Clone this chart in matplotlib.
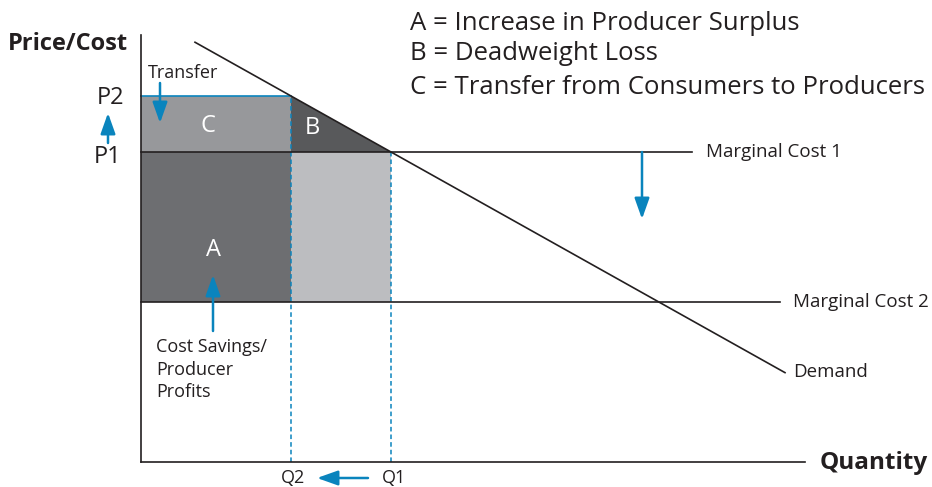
import matplotlib.pyplot as plt
from matplotlib.patches import Polygon, Rectangle

# market values (quantity, price)
q2, q1 = 15.0, 25.0
p2, p1 = 36.6, 31.0
mc2 = 16.0
demand_q = [5.4, 64.4]
demand_intercept, demand_slope = 45.0, 0.56
mc1_end, mc2_end = 55.1, 63.9
x_axis_end, y_axis_top = 66.4, 42.7

legend_lines = ["A = Increase in Producer Surplus",
                "B = Deadweight Loss",
                "C = Transfer from Consumers to Producers"]

ink = "#231f20"
blue = "#0a84bd"
col_a = "#6d6e71"
col_b = "#58595b"
col_c = "#97989b"
col_light = "#bcbdc0"

plt.rcParams['font.family'] = ['Open Sans', 'DejaVu Sans']

fig = plt.figure(figsize=(9.32, 4.87), dpi=100)
ax = fig.add_axes([0, 0, 1, 1])
ax.set_xlim(-14.1, 79.1)
ax.set_ylim(-2.5, 46.2)
ax.axis("off")

# shaded areas
ax.add_patch(Rectangle((0, mc2), q2, p1 - mc2, color=col_a, lw=0))
ax.add_patch(Rectangle((q2, mc2), q1 - q2, p1 - mc2, color=col_light, lw=0))
ax.add_patch(Rectangle((0, p1), q2, p2 - p1, color=col_c, lw=0))
ax.add_patch(Polygon([(q2, p2), (q2, p1), (q1, p1)], closed=True, color=col_b, lw=0))

# blue price line and dashed quantity lines
ax.plot([0, q2], [p2, p2], color=blue, lw=1.2)
ax.plot([q2, q2], [0, p2], color=blue, lw=1.1, ls=(0, (3, 2)))
ax.plot([q1, q1], [0, p1], color=blue, lw=1.1, ls=(0, (3, 2)))

# cost lines and demand
ax.plot([0, mc1_end], [p1, p1], color=ink, lw=1.2)
ax.plot([0, mc2_end], [mc2, mc2], color=ink, lw=1.2)
dq = demand_q
ax.plot(dq, [demand_intercept - demand_slope * v for v in dq], color=ink, lw=1.2)

# axes
ax.plot([0, x_axis_end], [0, 0], color=ink, lw=1.2)
ax.plot([0, 0], [0, y_axis_top], color=ink, lw=1.2)

arrow = dict(arrowstyle='-|>,head_length=0.9,head_width=0.32', color=blue, lw=1.8,
             mutation_scale=14, shrinkA=0, shrinkB=0)

ax.annotate("", xy=(-3.3, 34.9), xytext=(-3.3, 31.9), arrowprops=arrow)
ax.annotate("", xy=(1.9, 33.9), xytext=(1.9, 37.9), arrowprops=arrow)
ax.annotate("", xy=(7.2, 18.7), xytext=(7.2, 13.1), arrowprops=arrow)
ax.annotate("", xy=(17.6, -1.6), xytext=(22.7, -1.6), arrowprops=arrow)
ax.annotate("", xy=(50.1, 24.3), xytext=(50.1, p1), arrowprops=arrow)

# labels
ax.text(-1.3, 41.8, "Price/Cost", fontsize=17, fontweight="bold", ha="right", va="center", color=ink)
ax.text(67.9, -0.1, "Quantity", fontsize=17.5, fontweight="bold", ha="left", va="center", color=ink)
ax.text(-3.1, 36.4, "P2", fontsize=17, ha="center", va="center", color=ink)
ax.text(-3.3, 30.5, "P1", fontsize=17, ha="center", va="center", color=ink)
ax.text(q2 + 0.2, -1.6, "Q2", fontsize=13, ha="center", va="center", color=ink)
ax.text(q1 + 0.3, -1.6, "Q1", fontsize=13, ha="center", va="center", color=ink)

ax.text(0.7, 38.9, "Transfer", fontsize=13, ha="left", va="center", color=ink)
ax.text(6.7, 33.6, "C", fontsize=17, ha="center", va="center", color="white")
ax.text(17.1, 33.4, "B", fontsize=17, ha="center", va="center", color="white")
ax.text(7.2, 21.2, "A", fontsize=17, ha="center", va="center", color="white")
ax.text(1.5, 12.4, "Cost Savings/\nProducer\nProfits", fontsize=13, ha="left", va="top",
        linespacing=1.33, color=ink)

ax.text(56.5, p1, "Marginal Cost 1", fontsize=13.5, ha="left", va="center", color=ink)
ax.text(65.2, mc2, "Marginal Cost 2", fontsize=13.5, ha="left", va="center", color=ink)
ax.text(65.2, 9.0, "Demand", fontsize=13.5, ha="left", va="center", color=ink)

for line, y in zip(legend_lines, [43.9, 40.9, 37.5]):
    ax.text(26.9, y, line, fontsize=18.5, ha="left", va="center", color=ink)

fig.savefig("out.png", dpi=100)
